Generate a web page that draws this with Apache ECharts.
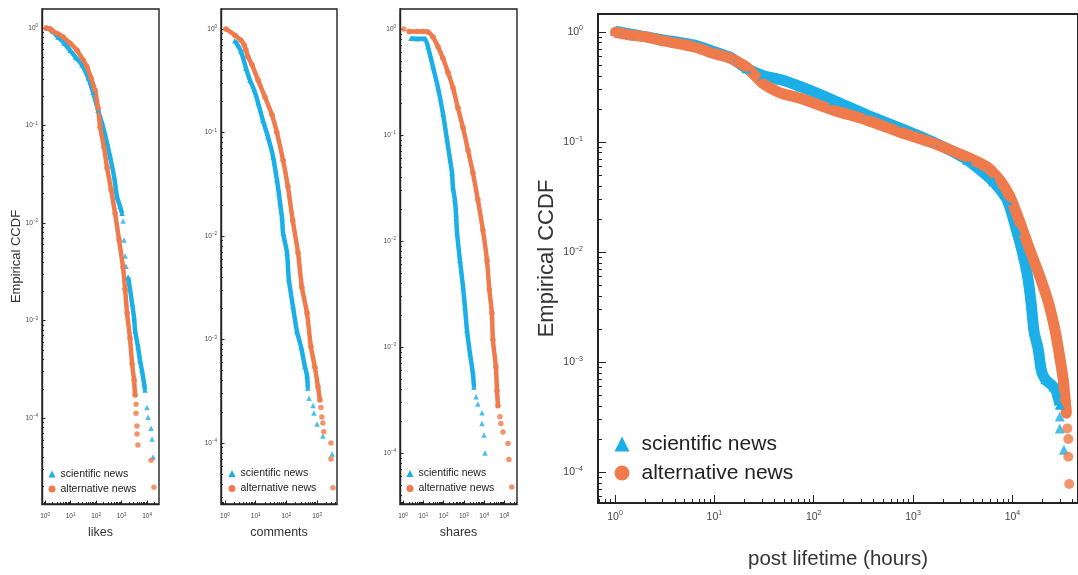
<!DOCTYPE html>
<html>
<head>
<meta charset="utf-8">
<script src="https://cdn.jsdelivr.net/npm/echarts@6/dist/echarts.min.js"></script>
<style>
  html, body { margin: 0; padding: 0; background: #fff; }
  #chart { width: 1078px; height: 575px; }
</style>
</head>
<body>
<div id="chart"></div>
<script>
// ---- data: [value, CCDF] ----
// likes
const likesSci = [[1.2,1.0],[1.9,0.93],[3.2,0.81],[5.6,0.70],[9.6,0.59],[16,0.50],[28,0.42],[49,0.31],[76,0.22],[120,0.144],[190,0.096],[270,0.066],[355,0.048],[510,0.030],[665,0.0186],[870,0.0149],[1050,0.0126]]
const likesSciLow = [[1800,0.0028],[2150,0.0021],[2600,0.0015],[3100,0.00107],[3400,7.9e-4],[4400,5.4e-4],[5300,3.9e-4],[6300,3.1e-4],[7600,2.3e-4],[8300,1.95e-4]]
const likesSciDots = [[1150,0.0105],[1260,0.0067],[1380,0.0046],[1500,0.0036],[10000,1.29e-4],[11000,1.02e-4],[14400,7.9e-5],[15800,6.1e-5],[17400,4.0e-5]]
const likesAlt = [[1.1,1.0],[1.6,0.98],[2.0,0.93],[3.2,0.87],[5.1,0.81],[9.6,0.70],[18,0.59],[31,0.47],[44,0.40],[63,0.31],[91,0.23],[120,0.151],[144,0.096],[205,0.060],[270,0.037],[390,0.022],[560,0.0126],[800,0.0067],[1150,0.0035],[1380,0.0021],[1650,0.0012],[2150,6.6e-4],[2600,3.6e-4],[3100,2.45e-4],[3400,1.73e-4]]
const likesAltDots = [[3700,1.39e-4],[3700,1.12e-4],[4050,8.3e-5],[4050,6.9e-5],[4400,5.3e-5],[14400,3.7e-5],[18700,1.96e-5]]

// comments
const commentsSci = [[2.1,0.77],[3.3,0.61],[4.8,0.42],[6.5,0.32],[8.8,0.26],[12,0.193],[17,0.132],[25,0.091],[37,0.058],[49,0.035],[57,0.026],[62,0.021],[72,0.015],[78,0.0107],[105,0.0069],[120,0.0038],[163,0.0021],[220,0.0012],[300,8.5e-4],[400,5.5e-4],[470,4.5e-4],[500,3.4e-4]]
const commentsSciDots = [[550,2.7e-4],[740,2.3e-4],[790,1.95e-4],[1000,1.52e-4],[1550,1.17e-4],[3100,7.8e-5]]
const commentsAlt = [[1.07,1.0],[2.1,0.87],[3.3,0.78],[4.2,0.70],[4.8,0.63],[5.6,0.54],[7.6,0.45],[12,0.32],[20,0.22],[34,0.148],[49,0.10],[78,0.054],[112,0.030],[162,0.014],[240,0.0069],[320,0.0032],[470,0.0018],[630,8.5e-4],[850,5.4e-4],[1070,3.5e-4],[1240,2.6e-4]]
const commentsAltDots = [[1340,2.2e-4],[1440,1.78e-4],[1550,1.56e-4],[1660,1.28e-4],[2840,1.0e-4],[2840,7.0e-5],[3300,3.7e-5]]

// shares
const sharesSci = [[2.5,0.82],[5,0.81],[12,0.81],[17,0.68],[30,0.44],[53,0.28],[93,0.16],[148,0.09],[210,0.058],[260,0.044],[290,0.032],[360,0.0245],[410,0.018],[460,0.012],[640,0.0066],[910,0.0037],[1130,0.0024],[1420,0.00145],[2000,8.7e-4],[2800,5.6e-4],[3150,4.2e-4]]
const sharesSciDots = [[4000,3.4e-4],[4900,2.9e-4],[7800,2.4e-4],[7800,1.9e-4],[9800,1.48e-4],[11000,1.0e-4]]
const sharesAlt = [[2.0,0.95],[5,0.95],[10,0.95],[17,0.94],[30,0.84],[53,0.68],[93,0.53],[165,0.39],[290,0.28],[510,0.18],[910,0.117],[1600,0.072],[2800,0.044],[4900,0.0245],[8700,0.0127],[13800,0.0066],[18000,0.0035],[24000,0.0021],[27000,0.00117],[38000,6.5e-4],[43000,3.9e-4],[48000,2.8e-4]]
const sharesAltDots = [[1.1,1.0],[60000,2.2e-4],[67000,1.9e-4],[85000,1.58e-4],[150000,1.23e-4],[166000,8.7e-5],[230000,4.8e-5]]

// post lifetime (hours)
const lifeSci = [[1.0,1.02],[1.42,0.96],[3.04,0.85],[6.7,0.75],[9.7,0.67],[14.4,0.59],[21,0.47],[31,0.40],[46,0.37],[73,0.32],[158,0.24],[345,0.176],[740,0.134],[1590,0.10],[3500,0.069],[6400,0.044],[8900,0.0296],[11000,0.0158],[12800,0.0094],[14400,0.0056],[15500,0.0033],[16500,0.0019],[18200,0.0013],[19500,8.5e-4],[21400,7.0e-4],[25800,6.0e-4],[28000,5.3e-4],[30000,4.1e-4]]
const lifeSciDots = [[30000,3.2e-4],[30000,2.5e-4],[33000,1.6e-4]]
const lifeAlt = [[1.0,1.0],[1.42,0.94],[2.1,0.90],[3.04,0.83],[4.5,0.78],[6.7,0.72],[9.7,0.64],[14.4,0.58],[21,0.48],[31,0.34],[46,0.28],[73,0.25],[158,0.195],[345,0.158],[740,0.123],[1590,0.098],[3500,0.073],[5600,0.059],[7500,0.045],[9500,0.0316],[12000,0.0183],[15000,0.0104],[19000,0.0059],[23000,0.0035],[27000,0.0019],[30000,0.0011],[32500,6.9e-4],[34000,4.5e-4],[35000,3.4e-4]]
const lifeAltDots = [[35700,2.5e-4],[36500,2.0e-4],[36500,1.38e-4],[37300,7.8e-5]]

const SCI = 'scientific news'
const ALT = 'alternative news'
const BLUE = '#1cafe7'
const ORANGE = '#ef7a4b'
const FONT = '"Liberation Sans", Arial, sans-serif'

// axis ranges are in decades (log10)
const panels = [
  { grid: { left: 42, top: 9, width: 117, height: 495 }, x: [-0.12, 4.47], y: [-4.88, 0.195],
    xName: 'likes', yName: 'Empirical CCDF', big: false,
    sci: [likesSci, likesSciLow], sciDots: likesSciDots, alt: [likesAlt], altDots: likesAltDots,
    legend: { left: 48.5, top: 468.5 } },
  { grid: { left: 221, top: 9, width: 116, height: 495 }, x: [-0.13, 3.65], y: [-4.59, 0.193],
    xName: 'comments', yName: '', big: false,
    sci: [commentsSci], sciDots: commentsSciDots, alt: [commentsAlt], altDots: commentsAltDots,
    legend: { left: 228.5, top: 468 } },
  { grid: { left: 400, top: 9, width: 117, height: 495 }, x: [-0.148, 5.62], y: [-4.48, 0.189],
    xName: 'shares', yName: '', big: false,
    sci: [sharesSci], sciDots: sharesSciDots, alt: [sharesAlt], altDots: sharesAltDots,
    legend: { left: 406.5, top: 468 } },
  // right edge of the last box sits on the page edge
  { grid: { left: 598, top: 14, width: 480, height: 489 }, x: [-0.171, 4.66], y: [-4.28, 0.164],
    xName: 'post lifetime (hours)', yName: 'Empirical CCDF', big: true,
    sci: [lifeSci], sciDots: lifeSciDots, alt: [lifeAlt], altDots: lifeAltDots,
    legend: { left: 614.5, top: 433.5 } }
]

const smallStyle = { border: 1.4, label: 6.5, sup: 4.5, lh: 9, xMargin: 8, yMargin: 4, major: 3.5, minor: 2,
  sym: 5.5, lw: 4.5, nameFont: 12.5, xNameGap: 22, yNameFont: 13, yNameGap: 19,
  icon: 7, legFont: 10.5, legGap: 4, legPad: 0 }
const bigStyle = { border: 2, label: 10.5, sup: 7, lh: 14, xMargin: 7, yMargin: 15, major: 8, minor: 4,
  sym: 10, lw: 11, nameFont: 20.5, xNameGap: 46, yNameFont: 22, yNameGap: 40,
  icon: 15, legFont: 21, legGap: 8, legPad: 7 }

function decades(r) {
  const out = []
  for (let d = Math.ceil(r[0]); d <= Math.floor(r[1]); d++) out.push(d)
  return out
}
function minors(r) {
  const out = []
  for (let d = Math.floor(r[0]); d <= Math.ceil(r[1]); d++) {
    for (let k = 2; k <= 9; k++) {
      const v = d + Math.log10(k)
      if (v > r[0] && v < r[1]) out.push(v)
    }
  }
  return out
}
function powLabel(v) {
  const n = Math.round(v)
  return '{b|10}{s|' + (n < 0 ? '\u2212' + (-n) : n) + '}'
}

// decoration axis in decades, laid over the log axis: ticks and 10^n labels
function decoAxis(i, pos, r, s, major, margin) {
  return {
    type: 'value', gridIndex: i, position: pos, min: r[0], max: r[1],
    axisLine: { show: false, onZero: false },
    splitLine: { show: false },
    axisTick: {
      show: true, inside: true, length: major ? s.major : s.minor,
      lineStyle: { color: '#222', width: 1 },
      customValues: major ? decades(r) : minors(r)
    },
    axisLabel: major ? {
      show: true, customValues: decades(r), margin: margin, formatter: powLabel,
      rich: {
        b: { fontSize: s.label, lineHeight: s.lh, color: '#444', fontFamily: FONT },
        s: { fontSize: s.sup, lineHeight: s.sup, verticalAlign: 'top', color: '#444', fontFamily: FONT }
      }
    } : { show: false }
  }
}

const option = {
  animation: false,
  backgroundColor: '#fff',
  grid: [], xAxis: [], yAxis: [], series: [], legend: []
}

panels.forEach((p, i) => {
  const s = p.big ? bigStyle : smallStyle
  option.grid.push(Object.assign({ show: true, borderColor: '#222', borderWidth: s.border }, p.grid))

  option.xAxis.push({
    type: 'log', gridIndex: i, position: 'bottom',
    min: Math.pow(10, p.x[0]), max: Math.pow(10, p.x[1]),
    axisLine: { onZero: false, lineStyle: { color: '#222', width: s.border } },
    axisTick: { show: false }, axisLabel: { show: false }, splitLine: { show: false },
    name: p.xName, nameLocation: 'middle', nameGap: s.xNameGap,
    nameTextStyle: { fontSize: s.nameFont, color: '#333', fontFamily: FONT }
  })
  option.xAxis.push(decoAxis(i, 'bottom', p.x, s, true, s.xMargin))
  option.xAxis.push(decoAxis(i, 'bottom', p.x, s, false, 0))

  option.yAxis.push({
    type: 'log', gridIndex: i, position: 'left',
    min: Math.pow(10, p.y[0]), max: Math.pow(10, p.y[1]),
    axisLine: { onZero: false, lineStyle: { color: '#222', width: s.border } },
    axisTick: { show: false }, axisLabel: { show: false }, splitLine: { show: false },
    name: p.yName, nameLocation: 'middle', nameGap: s.yNameGap,
    nameTextStyle: { fontSize: s.yNameFont, color: '#333', fontFamily: FONT }
  })
  option.yAxis.push(decoAxis(i, 'left', p.y, s, true, s.yMargin))
  option.yAxis.push(decoAxis(i, 'left', p.y, s, false, 0))

  const ax = { xAxisIndex: 3 * i, yAxisIndex: 3 * i }
  const line = (name, data, symbol, color) => Object.assign({
    type: 'line', name, data, symbol, symbolSize: s.sym, showSymbol: true, smooth: 0.2,
    lineStyle: { width: s.lw, color }, itemStyle: { color }
  }, ax)
  const dots = (name, data, symbol, color) => Object.assign({
    type: 'scatter', name, data, symbol, symbolSize: s.sym, itemStyle: { color }
  }, ax)

  p.sci.forEach(d => option.series.push(line(SCI, d, 'triangle', BLUE)))
  option.series.push(dots(SCI, p.sciDots, 'triangle', BLUE))
  p.alt.forEach(d => option.series.push(line(ALT, d, 'circle', ORANGE)))
  option.series.push(dots(ALT, p.altDots, 'circle', ORANGE))

  option.legend.push({
    orient: 'vertical', left: p.legend.left, top: p.legend.top, padding: 0,
    itemWidth: s.icon, itemHeight: s.icon, itemGap: s.legGap, selectedMode: false,
    data: [
      { name: SCI, icon: 'triangle', itemStyle: { color: BLUE } },
      { name: ALT, icon: 'circle', itemStyle: { color: ORANGE } }
    ],
    textStyle: { fontSize: s.legFont, color: '#222', fontFamily: FONT, padding: [0, 0, 0, s.legPad] }
  })
})

const chart = echarts.init(document.getElementById('chart'))
chart.setOption(option)
</script>
</body>
</html>
